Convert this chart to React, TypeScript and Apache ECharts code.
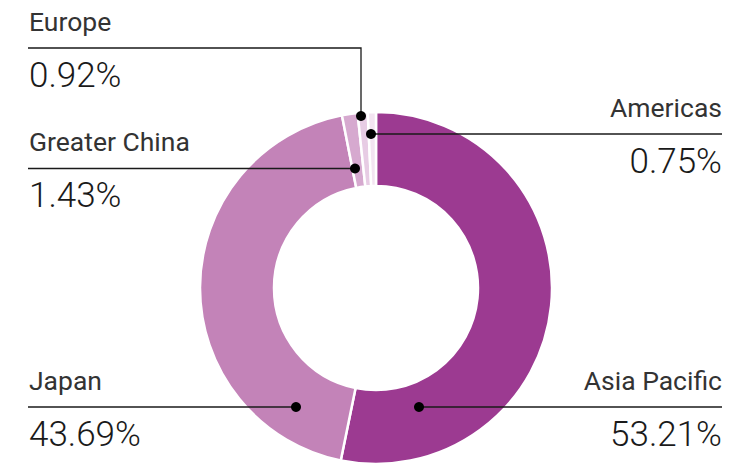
import React, { useEffect, useRef } from "react";
import * as echarts from "echarts";

const categories = ["Asia Pacific", "Japan", "Greater China", "Europe", "Americas"];
const shares = [53.21, 43.69, 1.43, 0.92, 0.75];
const shareLabels = ["53.21%", "43.69%", "1.43%", "0.92%", "0.75%"];
const sliceColors = ["#9c3a91", "#c383b8", "#d6a9cf", "#e7cce4", "#f3e4f1"];

// annotation layout: side, y of leader line, dot position
const annotations = [
  { side: "right", lineY: 407, dotX: 419, dotY: 407 },
  { side: "left", lineY: 407, dotX: 296, dotY: 407 },
  { side: "left", lineY: 168.5, dotX: 355, dotY: 168.5 },
  { side: "left", lineY: 48, dotX: 361, dotY: 116 },
  { side: "right", lineY: 134, dotX: 371, dotY: 134 },
];

const LEFT_X = 28;
const RIGHT_X = 722;
const FONT = "Roboto, 'Liberation Sans', sans-serif";

export default function App() {
  const ref = useRef<HTMLDivElement>(null);
  useEffect(() => {
    if (!ref.current) return;
    const chart = echarts.init(ref.current, null, { renderer: "svg" });
    const graphics: any[] = [];
    annotations.forEach((a, i) => {
      const pts: number[][] =
        a.side === "left"
          ? a.dotY === a.lineY
            ? [[LEFT_X, a.lineY], [a.dotX, a.lineY]]
            : [[LEFT_X, a.lineY], [a.dotX, a.lineY], [a.dotX, a.dotY]]
          : [[a.dotX, a.lineY], [RIGHT_X, a.lineY]];
      graphics.push({
        type: "polyline",
        shape: { points: pts },
        style: { stroke: "#1a1a1a", lineWidth: 1.3, fill: null },
        z: 10,
      });
      graphics.push({
        type: "circle",
        shape: { cx: a.dotX, cy: a.dotY, r: 5 },
        style: { fill: "#000" },
        z: 11,
      });
      const tx = a.side === "left" ? LEFT_X + 1 : RIGHT_X;
      const align = a.side === "left" ? "left" : "right";
      graphics.push({
        type: "text",
        x: tx,
        y: a.lineY - 27,
        style: {
          text: categories[i],
          fill: "#333",
          font: `400 26.5px ${FONT}`,
          align,
          verticalAlign: "middle",
        },
        z: 10,
      });
      graphics.push({
        type: "text",
        x: tx,
        y: a.lineY + 27,
        style: {
          text: shareLabels[i],
          fill: "#1a1a1a",
          font: `300 35px ${FONT}`,
          align,
          verticalAlign: "middle",
        },
        z: 10,
      });
    });

    chart.setOption({
      animation: false,
      graphic: graphics,
      series: [
        {
          type: "pie",
          center: [376, 288],
          radius: [102, 176],
          startAngle: 90,
          clockwise: true,
          label: { show: false },
          labelLine: { show: false },
          silent: true,
          itemStyle: { borderColor: "#fff", borderWidth: 2.5 },
          data: categories.map((c, i) => ({
            name: c,
            value: shares[i],
            itemStyle: { color: sliceColors[i] },
          })),
        },
      ],
    });
    return () => chart.dispose();
  }, []);
  return (
    <div
      ref={ref}
      style={{ position: "fixed", left: 0, top: 0, width: 752, height: 464, background: "#fff" }}
    />
  );
}
